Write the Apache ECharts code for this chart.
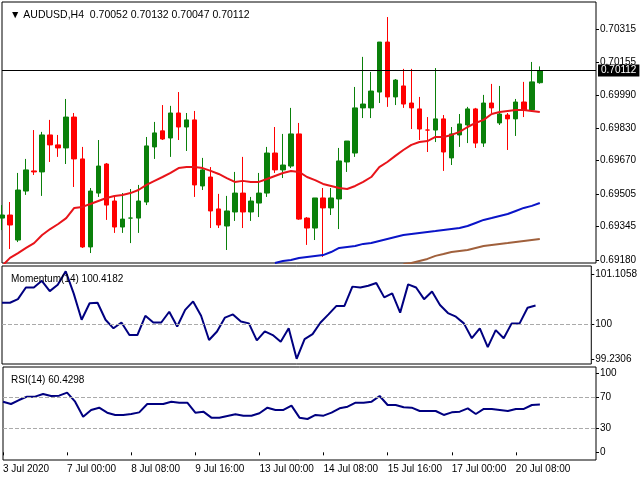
<!DOCTYPE html>
<html>
<head>
<meta charset="utf-8">
<script src="https://cdn.jsdelivr.net/npm/echarts@6/dist/echarts.min.js"></script>
<style>
  html, body { margin: 0; padding: 0; background: #fff; }
  #chart { width: 640px; height: 480px; }
</style>
</head>
<body>
<div id="chart"></div>
<script>
// candles: [open, close, low, high]
const candles = [
  [0.69386,0.69401,0.69327,0.69450],[0.69401,0.69352,0.69234,0.69465],[0.69278,0.69524,0.69268,0.69608],
  [0.69519,0.69623,0.69500,0.69677],[0.69618,0.69613,0.69598,0.69819],[0.69613,0.69795,0.69495,0.69810],
  [0.69795,0.69746,0.69662,0.69869],[0.69746,0.69731,0.69687,0.69795],[0.69731,0.69883,0.69652,0.69972],
  [0.69883,0.69677,0.69539,0.69903],[0.69677,0.69244,0.69239,0.69736],[0.69244,0.69519,0.69214,0.69534],
  [0.69509,0.69642,0.69490,0.69770],[0.69652,0.69450,0.69377,0.69657],[0.69470,0.69342,0.69313,0.69490],
  [0.69342,0.69381,0.69313,0.69509],[0.69386,0.69386,0.69263,0.69529],[0.69386,0.69470,0.69313,0.69549],
  [0.69465,0.69741,0.69450,0.69785],[0.69736,0.69805,0.69677,0.69859],[0.69815,0.69775,0.69770,0.69942],
  [0.69780,0.69903,0.69687,0.69938],[0.69903,0.69834,0.69770,0.70006],[0.69834,0.69869,0.69716,0.69903],
  [0.69869,0.69549,0.69490,0.69913],[0.69544,0.69623,0.69524,0.69682],[0.69588,0.69421,0.69337,0.69637],
  [0.69431,0.69352,0.69337,0.69505],[0.69347,0.69421,0.69229,0.69495],[0.69416,0.69509,0.69372,0.69613],
  [0.69509,0.69416,0.69337,0.69687],[0.69416,0.69470,0.69372,0.69490],[0.69460,0.69509,0.69391,0.69608],
  [0.69509,0.69706,0.69490,0.69736],[0.69706,0.69623,0.69608,0.69834],[0.69623,0.69647,0.69583,0.69800],
  [0.69642,0.69800,0.69632,0.69928],[0.69800,0.69381,0.69377,0.69854],[0.69386,0.69337,0.69254,0.69391],
  [0.69337,0.69485,0.69278,0.69485],[0.69485,0.69436,0.69195,0.69534],[0.69436,0.69485,0.69401,0.69534],
  [0.69480,0.69667,0.69332,0.69731],[0.69662,0.69765,0.69613,0.69765],[0.69706,0.69928,0.69687,0.70031],
  [0.69928,0.69947,0.69878,0.70179],[0.69928,0.70011,0.69878,0.70105],[0.70006,0.70252,0.69952,0.70252],
  [0.70252,0.69982,0.69933,0.70375],[0.69982,0.70065,0.69942,0.70070],[0.70036,0.69947,0.69928,0.70120],
  [0.69952,0.69928,0.69824,0.70120],[0.69923,0.69824,0.69770,0.69982],[0.69819,0.69819,0.69711,0.69883],
  [0.69819,0.69874,0.69760,0.70124],[0.69874,0.69711,0.69618,0.69893],[0.69682,0.69800,0.69647,0.69834],
  [0.69795,0.69849,0.69736,0.69898],[0.69844,0.69923,0.69755,0.69933],[0.69923,0.69755,0.69731,0.69928],
  [0.69755,0.69952,0.69736,0.69992],[0.69952,0.69928,0.69903,0.70046],[0.69854,0.69898,0.69844,0.70036],
  [0.69893,0.69874,0.69721,0.69903],[0.69874,0.69957,0.69790,0.69972],[0.69957,0.69918,0.69883,0.70056],
  [0.69918,0.70056,0.69908,0.70154],[0.70052,0.70112,0.70047,0.70132]
];

const maRed = [0.69150,0.69190,0.69214,0.69239,0.69263,0.69303,0.69332,0.69357,0.69386,0.69436,0.69441,0.69455,
  0.69470,0.69485,0.69495,0.69500,0.69509,0.69524,0.69549,0.69569,0.69588,0.69608,0.69632,0.69637,0.69637,0.69632,
  0.69618,0.69603,0.69583,0.69564,0.69569,0.69564,0.69564,0.69578,0.69593,0.69608,0.69618,0.69613,0.69588,0.69573,
  0.69554,0.69544,0.69534,0.69529,0.69544,0.69564,0.69588,0.69637,0.69662,0.69692,0.69721,0.69746,0.69760,0.69765,
  0.69785,0.69785,0.69795,0.69810,0.69834,0.69854,0.69869,0.69898,0.69908,0.69913,0.69918,0.69918,0.69913,0.69908];

// blue MA starts at bar 35, brown at bar 51
const maBlue = [0.69165,0.69175,0.69180,0.69190,0.69195,0.69200,0.69204,0.69219,0.69239,0.69244,0.69249,0.69259,
  0.69263,0.69273,0.69283,0.69293,0.69303,0.69308,0.69313,0.69318,0.69322,0.69327,0.69332,0.69337,0.69347,0.69362,
  0.69377,0.69386,0.69396,0.69406,0.69421,0.69436,0.69446,0.69460];
const maBrown = [0.69160,0.69165,0.69175,0.69185,0.69200,0.69209,0.69219,0.69224,0.69229,0.69239,0.69249,0.69254,
  0.69259,0.69263,0.69268,0.69273,0.69278,0.69283];

const momentum = [100.48,100.48,100.56,100.82,100.82,100.97,100.74,100.88,101.18,100.69,100.10,100.47,100.48,100.10,
  99.91,100.04,99.76,99.76,100.19,100.04,100.04,100.28,99.95,100.32,100.51,100.19,99.65,99.84,100.15,100.22,100.06,
  100.02,99.64,99.84,99.76,99.61,99.91,99.23,99.67,99.78,100.04,100.22,100.41,100.41,100.84,100.82,100.86,100.92,
  100.60,100.69,100.26,100.89,100.82,100.56,100.73,100.43,100.25,100.17,100.02,99.69,99.91,99.49,99.87,99.69,
  100.02,100.02,100.37,100.42];

const rsi = [64.1,61.2,66.2,70.5,70.5,73.8,71.3,71.7,75.5,64.1,45.1,53.6,56.5,50.2,47.3,47.3,48.5,50.6,61.2,61.2,
  61.2,64.1,62.9,62.9,50.2,51.5,43.9,43.9,46.0,48.1,46.4,46.4,49.4,56.5,53.6,53.6,59.1,43.9,42.2,47.3,46.4,50.2,
  55.7,57.8,62.9,62.9,64.1,71.3,59.9,59.9,57.0,56.5,52.3,52.3,52.3,47.3,50.6,51.5,55.7,48.5,54.9,54.9,53.6,52.3,
  54.9,54.9,59.9,60.4];

const lastPrice = 0.70112;
const priceTicks = [0.70315, 0.70155, 0.69990, 0.69830, 0.69670, 0.69505, 0.69345, 0.69180];
const momTicks = [101.1058, 100, 99.2306];
const rsiTicks = [100, 70, 30, 0];
const tickIndex = [0, 8, 16, 24, 32, 40, 48, 56, 64];
const tickText = ['3 Jul 2020', '7 Jul 00:00', '8 Jul 08:00', '9 Jul 16:00', '13 Jul 00:00',
  '14 Jul 08:00', '15 Jul 16:00', '17 Jul 00:00', '20 Jul 08:00'];

const slots = 75;
const cats = Array.from({ length: slots }, (_, i) => String(i));
const font = 'Liberation Sans';
const up = '#0a800a', down = '#ff0000';

function pad(arr, start) {
  const out = new Array(start).fill(null);
  return out.concat(arr);
}

function xAxisFor(idx, showLabels) {
  return {
    type: 'category', gridIndex: idx, data: cats, boundaryGap: false,
    axisLine: { show: false },
    axisTick: { show: showLabels, length: 3, interval: i => tickIndex.includes(i), lineStyle: { color: '#000' } },
    axisLabel: {
      show: showLabels, interval: i => tickIndex.includes(i), align: 'left', margin: 4,
      color: '#000', fontSize: 10, fontFamily: font,
      formatter: (v, i) => tickText[tickIndex.indexOf(i)] || ''
    },
    splitLine: { show: false }
  };
}

function yAxisFor(idx, min, max, ticks, fmt) {
  return {
    type: 'value', gridIndex: idx, position: 'right', min: min, max: max,
    axisLine: { show: false },
    axisTick: { show: true, length: 3, customValues: ticks, lineStyle: { color: '#000' } },
    axisLabel: { customValues: ticks, formatter: fmt, color: '#000', fontSize: 10, fontFamily: font,
      margin: 4, hideOverlap: false },
    splitLine: { show: false }
  };
}

const chart = echarts.init(document.getElementById('chart'));

const gridBase = { left: 2, right: 44, show: true, borderColor: '#000', borderWidth: 1, backgroundColor: '#fff' };

chart.setOption({
  animation: false,
  backgroundColor: '#fff',
  title: [
    { text: '▼ AUDUSD,H4  0.70052 0.70132 0.70047 0.70112', left: 5, top: 5,
      textStyle: { fontSize: 10.5, fontWeight: 'normal', color: '#000', fontFamily: font } },
    { text: 'Momentum(14) 100.4182', left: 6, top: 269,
      textStyle: { fontSize: 10, fontWeight: 'normal', color: '#000', fontFamily: font } },
    { text: 'RSI(14) 60.4298', left: 6, top: 370,
      textStyle: { fontSize: 10, fontWeight: 'normal', color: '#000', fontFamily: font } }
  ],
  grid: [
    Object.assign({ top: 2, height: 261 }, gridBase),
    Object.assign({ top: 266, height: 98 }, gridBase),
    Object.assign({ top: 367, height: 93 }, gridBase)
  ],
  xAxis: [xAxisFor(0, false), xAxisFor(1, false), xAxisFor(2, true)],
  yAxis: [
    yAxisFor(0, 0.69165, 0.70449, priceTicks, v => v.toFixed(5)),
    yAxisFor(1, 99.114, 101.30, momTicks, v => String(v)),
    yAxisFor(2, -9.7, 108, rsiTicks, v => String(v))
  ],
  series: [
    {
      type: 'candlestick', xAxisIndex: 0, yAxisIndex: 0, data: candles, barWidth: 5,
      itemStyle: { color: up, color0: down, borderColor: up, borderColor0: down, borderWidth: 1 }
    },
    { type: 'line', xAxisIndex: 0, yAxisIndex: 0, data: maRed, showSymbol: false,
      lineStyle: { color: '#e8141a', width: 2 }, z: 3,
      markLine: {
        symbol: 'none', silent: true, z: 10,
        lineStyle: { color: '#000', width: 1, type: 'solid' },
        label: {
          position: 'end', formatter: lastPrice.toFixed(5), color: '#fff', backgroundColor: '#000',
          fontSize: 10, fontFamily: font, padding: [1, 3], distance: 2
        },
        data: [[{ coord: [cats[0], lastPrice] }, { coord: [cats[slots - 1], lastPrice] }]]
      }
    },
    { type: 'line', xAxisIndex: 0, yAxisIndex: 0, data: pad(maBlue, 34), showSymbol: false,
      lineStyle: { color: '#0a14c8', width: 2 }, z: 3 },
    { type: 'line', xAxisIndex: 0, yAxisIndex: 0, data: pad(maBrown, 50), showSymbol: false,
      lineStyle: { color: '#a0603c', width: 2 }, z: 3 },
    {
      type: 'line', xAxisIndex: 1, yAxisIndex: 1, data: momentum, showSymbol: false,
      lineStyle: { color: '#000080', width: 2 },
      markLine: { symbol: 'none', silent: true, label: { show: false },
        lineStyle: { color: '#aaa', type: 'dashed', width: 1 }, data: [{ yAxis: 100 }] }
    },
    {
      type: 'line', xAxisIndex: 2, yAxisIndex: 2, data: rsi, showSymbol: false,
      lineStyle: { color: '#000080', width: 2 },
      markLine: { symbol: 'none', silent: true, label: { show: false },
        lineStyle: { color: '#aaa', type: 'dashed', width: 1 }, data: [{ yAxis: 70 }, { yAxis: 30 }] }
    }
  ]
});
</script>
</body>
</html>
